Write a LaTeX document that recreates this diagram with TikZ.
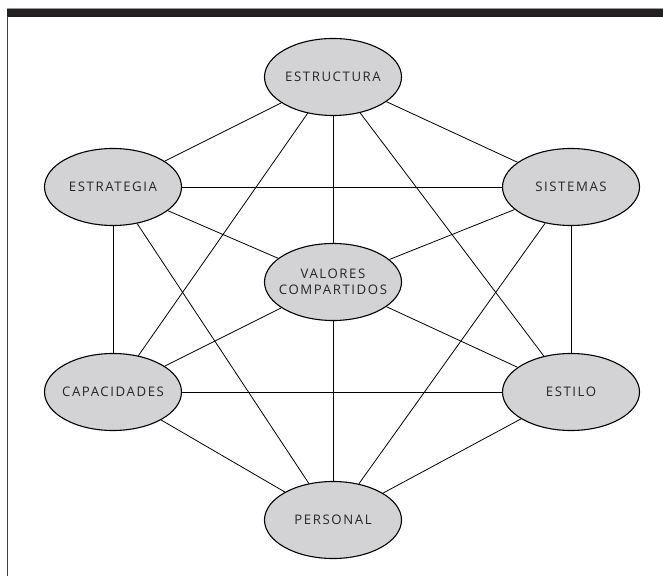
\documentclass[tikz,border=0pt]{standalone}
\usepackage{fontspec}
\setmainfont{Open Sans}[LetterSpace=12]
\usetikzlibrary{shapes.geometric}
\definecolor{bargray}{RGB}{35,31,32}
\definecolor{ovalgray}{RGB}{211,211,213}
\begin{document}
\begin{tikzpicture}[x=1pt,y=1pt,
    oval/.style={ellipse, draw=black, line width=1.1pt, fill=ovalgray,
      minimum width=137pt, minimum height=77pt, inner sep=-40pt,
      font=\fontsize{13.2}{15.5}\selectfont, text=black!85, align=center},
    link/.style={draw=black, line width=0.8pt}]
    \useasboundingbox (0,0) rectangle (663,576);
    % frame
    \fill [bargray] (7,559) rectangle (663,567);
    \draw [black!40, line width=0.6pt] (7,567.3) -- (663,567.3);
    \draw [black!75, line width=1.2pt] (7.8,0) -- (7.8,560);

    \node [oval] (estructura) at (333,499) {ESTRUCTURA};
    \node [oval] (estrategia) at (113,389) {ESTRATEGIA};
    \node [oval] (sistemas) at (571,389) {SISTEMAS};
    \node [oval] (valores) at (333,294) {VALORES\\COMPARTIDOS};
    \node [oval] (capacidades) at (113,184) {CAPACIDADES};
    \node [oval] (estilo) at (571,184) {ESTILO};
    \node [oval] (personal) at (333,56) {PERSONAL};

    \draw [link] (estructura) -- (estrategia);
    \draw [link] (estructura) -- (sistemas);
    \draw [link] (estructura) -- (valores);
    \draw [link] (estructura) -- (capacidades);
    \draw [link] (estructura) -- (estilo);
    \draw [link] (estrategia) -- (sistemas);
    \draw [link] (estrategia) -- (valores);
    \draw [link] (estrategia) -- (capacidades);
    \draw [link] (estrategia) -- (personal);
    \draw [link] (sistemas) -- (valores);
    \draw [link] (sistemas) -- (estilo);
    \draw [link] (sistemas) -- (personal);
    \draw [link] (valores) -- (capacidades);
    \draw [link] (valores) -- (estilo);
    \draw [link] (valores) -- (personal);
    \draw [link] (capacidades) -- (estilo);
    \draw [link] (capacidades) -- (personal);
    \draw [link] (estilo) -- (personal);
\end{tikzpicture}
\end{document}
